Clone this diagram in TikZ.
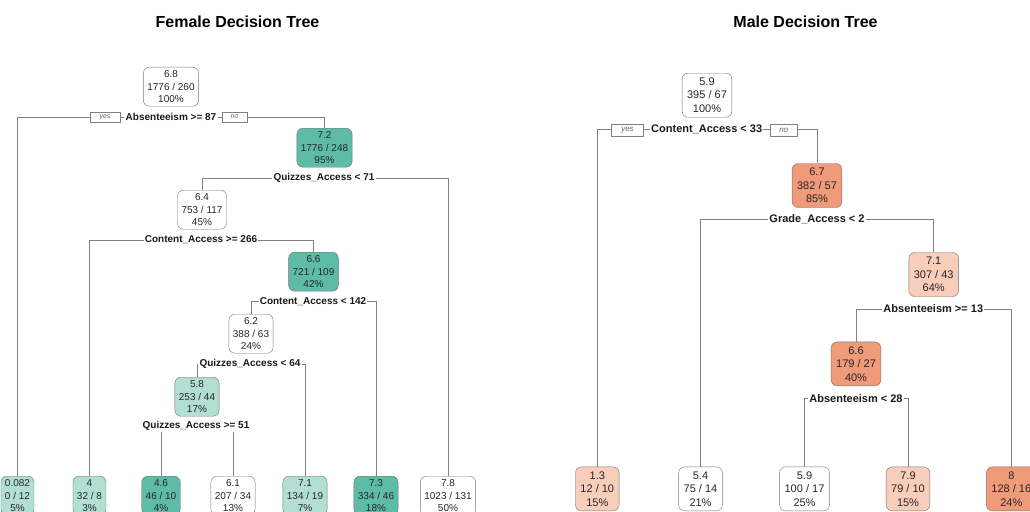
\documentclass[tikz,border=0pt]{standalone}
\usepackage{fontspec}
\setmainfont{Liberation Sans}
\definecolor{tealdk}{HTML}{5EBBA6}
\definecolor{teallt}{HTML}{B3DFD3}
\definecolor{salmdk}{HTML}{EF9A78}
\definecolor{salmlt}{HTML}{F8CDBA}
\begin{document}
\begin{tikzpicture}[x=1pt,y=-1pt,
  fbox/.style={draw=black!55, rounded corners=6pt, align=center, inner xsep=4pt, inner ysep=0pt, minimum height=39pt, anchor=north, font=\fontsize{10}{12.3}\selectfont, text=black!85},
  mbox/.style={fbox, inner xsep=5pt, minimum height=44pt, font=\fontsize{11}{13.4}\selectfont},
  fsplit/.style={font=\bfseries\fontsize{10}{12}\selectfont, inner sep=1pt, text=black!90},
  msplit/.style={font=\bfseries\fontsize{11}{13}\selectfont, inner sep=1pt, text=black!90},
  fyn/.style={draw=black!50, fill=white, font=\itshape\fontsize{7}{8}\selectfont, text=black!60, minimum width=30pt, minimum height=10pt, inner sep=0pt},
  myn/.style={fyn, font=\itshape\fontsize{8}{9}\selectfont, minimum height=12pt},
  edge/.style={draw=black!50, line width=0.6pt}]
\useasboundingbox (0,0) rectangle (1030,511);
\clip (0,0) rectangle (1030,511);
\node[font=\bfseries\fontsize{16}{19}\selectfont] (ftitle) at (237.5,21.7) {Female Decision Tree};
\node[font=\bfseries\fontsize{16}{19}\selectfont] (mtitle) at (805.5,21.7) {Male Decision Tree};
\node[fbox] (fn0) at (171,67) {6.8\\1776 / 260\\100\%};
\node[fbox, fill=tealdk] (fn1) at (324.5,128) {7.2\\1776 / 248\\95\%};
\node[fbox] (fn2) at (202,190) {6.4\\753 / 117\\45\%};
\node[fbox, fill=tealdk] (fn3) at (313.5,252) {6.6\\721 / 109\\42\%};
\node[fbox] (fn4) at (251,314) {6.2\\388 / 63\\24\%};
\node[fbox, fill=teallt] (fn5) at (197,377) {5.8\\253 / 44\\17\%};
\node[fbox, fill=teallt] (fl0) at (17.5,476) {0.082\\0 / 12\\5\%};
\node[fbox, fill=teallt] (fl1) at (89.5,476) {4\\32 / 8\\3\%};
\node[fbox, fill=tealdk] (fl2) at (161,476) {4.6\\46 / 10\\4\%};
\node[fbox] (fl3) at (233,476) {6.1\\207 / 34\\13\%};
\node[fbox, fill=teallt] (fl4) at (305,476) {7.1\\134 / 19\\7\%};
\node[fbox, fill=tealdk] (fl5) at (376,476) {7.3\\334 / 46\\18\%};
\node[fbox] (fl6) at (448,476) {7.8\\1023 / 131\\50\%};
\node[fsplit] (fs0) at (171,117) {Absenteeism >= 87};
\node[fsplit] (fs1) at (324,178.3) {Quizzes\_Access < 71};
\node[fsplit] (fs2) at (201,240) {Content\_Access >= 266};
\node[fsplit] (fs3) at (313,301.7) {Content\_Access < 142};
\node[fsplit] (fs4) at (250,364) {Quizzes\_Access < 64};
\node[fsplit] (fs5) at (196,425.7) {Quizzes\_Access >= 51};
\draw[edge] (fs0.west) -| (fl0.north);
\draw[edge] (fs0.east) -| (fn1.north);
\draw[edge] (fs1.west) -| (fn2.north);
\draw[edge] (fs1.east) -| (fl6.north);
\draw[edge] (fs2.west) -| (fl1.north);
\draw[edge] (fs2.east) -| (fn3.north);
\draw[edge] (fs3.west) -| (fn4.north);
\draw[edge] (fs3.east) -| (fl5.north);
\draw[edge] (fs4.west) -| (fn5.north);
\draw[edge] (fs4.east) -| (fl4.north);
\draw[edge] (fs5.south -| fl2.north) -- (fl2.north);
\draw[edge] (fs5.south -| fl3.north) -- (fl3.north);
\node[fyn] (fyes) at (105,117) {yes};
\node[fyn, minimum width=25pt] (fno) at (234.5,117) {no};
\node[mbox] (mn0) at (707,73) {5.9\\395 / 67\\100\%};
\node[mbox, fill=salmdk] (mn1) at (817,163.3) {6.7\\382 / 57\\85\%};
\node[mbox, fill=salmlt] (mn2) at (933.7,252.3) {7.1\\307 / 43\\64\%};
\node[mbox, fill=salmdk] (mn3) at (856,341.7) {6.6\\179 / 27\\40\%};
\node[mbox, fill=salmlt] (ml0) at (597.3,466.7) {1.3\\12 / 10\\15\%};
\node[mbox] (ml1) at (700.5,466.7) {5.4\\75 / 14\\21\%};
\node[mbox] (ml2) at (804.5,466.7) {5.9\\100 / 17\\25\%};
\node[mbox, fill=salmlt] (ml3) at (908,466.7) {7.9\\79 / 10\\15\%};
\node[mbox, fill=salmdk] (ml4) at (1011.3,466.7) {8\\128 / 16\\24\%};
\node[msplit] (ms0) at (706.7,129.3) {Content\_Access < 33};
\node[msplit] (ms1) at (817,219) {Grade\_Access < 2};
\node[msplit] (ms2) at (933.3,309) {Absenteeism >= 13};
\node[msplit] (ms3) at (856,398.3) {Absenteeism < 28};
\draw[edge] (ms0.west) -| (ml0.north);
\draw[edge] (ms0.east) -| (mn1.north);
\draw[edge] (ms1.west) -| (ml1.north);
\draw[edge] (ms1.east) -| (mn2.north);
\draw[edge] (ms2.west) -| (mn3.north);
\draw[edge] (ms2.east) -| (ml4.north);
\draw[edge] (ms3.west) -| (ml2.north);
\draw[edge] (ms3.east) -| (ml3.north);
\node[myn, minimum width=32pt] (myes) at (627.5,130) {yes};
\node[myn, minimum width=27pt] (mno) at (783.7,130) {no};
\end{tikzpicture}
\end{document}
